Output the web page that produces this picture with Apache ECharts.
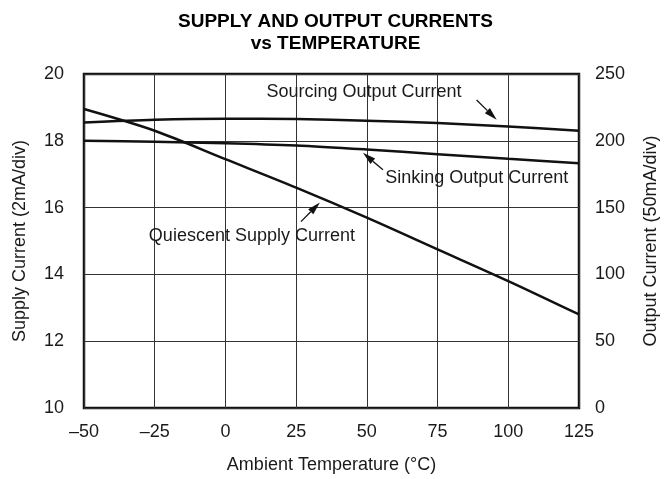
<!DOCTYPE html>
<html>
<head>
<meta charset="utf-8">
<script src="https://cdn.jsdelivr.net/npm/echarts@6/dist/echarts.min.js"></script>
<style>html,body{margin:0;padding:0;background:#fff;}#c{width:671px;height:479px;}</style>
</head>
<body>
<div id="c"></div>
<script>
// Data
const temps = [-50, -25, 0, 25, 50, 75, 100, 125];            // Ambient temperature, °C
const quiescent = [18.95, 18.3, 17.45, 16.6, 15.7, 14.75, 13.8, 12.8]; // Supply current, mA (left axis)
const sourcing = [213.75, 215.75, 216.5, 216.25, 215, 213.25, 210.75, 207.5]; // Output current, mA (right axis)
const sinking = [200, 199.25, 198.25, 196.5, 193.5, 190, 186.5, 183.25];       // Output current, mA (right axis)
const xTicks = [-50, -25, 0, 25, 50, 75, 100, 125];
const leftTicks = [10, 12, 14, 16, 18, 20];
const rightTicks = [0, 50, 100, 150, 200, 250];

const FONT = '"Liberation Sans", Arial, Helvetica, sans-serif';
const INK = '#1a1a1a';
const FS = 18;

function pairs(xs, ys) { return xs.map((x, i) => [x, ys[i]]); }

const chart = echarts.init(document.getElementById('c'));
const option = {
  animation: false,
  backgroundColor: '#fff',
  title: {
    text: 'SUPPLY AND OUTPUT CURRENTS\nvs TEMPERATURE',
    left: 'center', top: 6,
    textStyle: { fontFamily: FONT, fontSize: 19, fontWeight: 'bold', color: '#000', lineHeight: 22 }
  },
  grid: { left: 84, right: 92, top: 74, bottom: 70, show: true, borderColor: '#111', borderWidth: 2.5, backgroundColor: 'transparent' },
  xAxis: {
    type: 'value', min: xTicks[0], max: xTicks[xTicks.length - 1], interval: 25,
    name: 'Ambient Temperature (°C)', nameLocation: 'middle', nameGap: 48,
    nameTextStyle: { fontFamily: FONT, fontSize: FS, color: INK },
    axisLine: { show: false }, axisTick: { show: false },
    axisLabel: { fontFamily: FONT, fontSize: FS, color: INK, margin: 15,
      formatter: v => (v < 0 ? '\u2013' + Math.abs(v) : String(v)) },
    splitLine: { show: true, lineStyle: { color: '#333', width: 1 } }
  },
  yAxis: [
    {
      type: 'value', min: leftTicks[0], max: leftTicks[leftTicks.length - 1], interval: 2, position: 'left',
      name: 'Supply Current (2mA/div)', nameLocation: 'middle', nameGap: 55,
      nameTextStyle: { fontFamily: FONT, fontSize: FS, color: INK },
      axisLine: { show: false }, axisTick: { show: false },
      axisLabel: { fontFamily: FONT, fontSize: FS, color: INK, margin: 20 },
      splitLine: { show: true, lineStyle: { color: '#333', width: 1 } }
    },
    {
      type: 'value', min: rightTicks[0], max: rightTicks[rightTicks.length - 1], interval: 50, position: 'right',
      name: 'Output Current (50mA/div)', nameLocation: 'middle', nameGap: 63, nameRotate: 90,
      nameTextStyle: { fontFamily: FONT, fontSize: FS, color: INK },
      axisLine: { show: false }, axisTick: { show: false },
      axisLabel: { fontFamily: FONT, fontSize: FS, color: INK, margin: 16 },
      splitLine: { show: false }
    }
  ],
  series: [
    { name: 'Quiescent Supply Current', type: 'line', yAxisIndex: 0, data: pairs(temps, quiescent),
      smooth: 0.3, symbol: 'none', lineStyle: { color: '#111', width: 2.5 } },
    { name: 'Sourcing Output Current', type: 'line', yAxisIndex: 1, data: pairs(temps, sourcing),
      smooth: 0.3, symbol: 'none', lineStyle: { color: '#111', width: 2.5 } },
    { name: 'Sinking Output Current', type: 'line', yAxisIndex: 1, data: pairs(temps, sinking),
      smooth: 0.3, symbol: 'none', lineStyle: { color: '#111', width: 2.5 } }
  ]
};
chart.setOption(option);

// Annotations, anchored in data units (temperature, supply-current scale)
const notes = [
  { text: 'Sourcing Output Current', at: [14.5, 19.45], align: 'left', tail: [88.8, 19.22], tip: [95.9, 18.63] },
  { text: 'Sinking Output Current', at: [56.5, 16.9], align: 'left', tail: [55.7, 17.13], tip: [48.6, 17.64] },
  { text: 'Quiescent Supply Current', at: [45.8, 15.15], align: 'right', tail: [26.7, 15.58], tip: [33.4, 16.15] }
];
const px = p => chart.convertToPixel({ xAxisIndex: 0, yAxisIndex: 0 }, p);
const graphics = [];
notes.forEach(n => {
  const a = px(n.at), t0 = px(n.tail), t1 = px(n.tip);
  graphics.push({ type: 'text', silent: true, style: { text: n.text, x: a[0], y: a[1], fontFamily: FONT, fontSize: FS,
    fill: INK, align: n.align, verticalAlign: 'middle' } });
  const dx = t1[0] - t0[0], dy = t1[1] - t0[1], L = Math.hypot(dx, dy);
  const ux = dx / L, uy = dy / L, hl = 13, hw = 3.6;
  const bx = t1[0] - ux * hl, by = t1[1] - uy * hl;
  graphics.push({ type: 'line', silent: true, shape: { x1: t0[0], y1: t0[1], x2: bx, y2: by }, style: { stroke: '#111', lineWidth: 1.3 } });
  graphics.push({ type: 'polygon', silent: true, shape: { points: [[t1[0], t1[1]], [bx - uy * hw, by + ux * hw], [bx + uy * hw, by - ux * hw]] },
    style: { fill: '#111' } });
});
chart.setOption({ graphic: graphics });
</script>
</body>
</html>
